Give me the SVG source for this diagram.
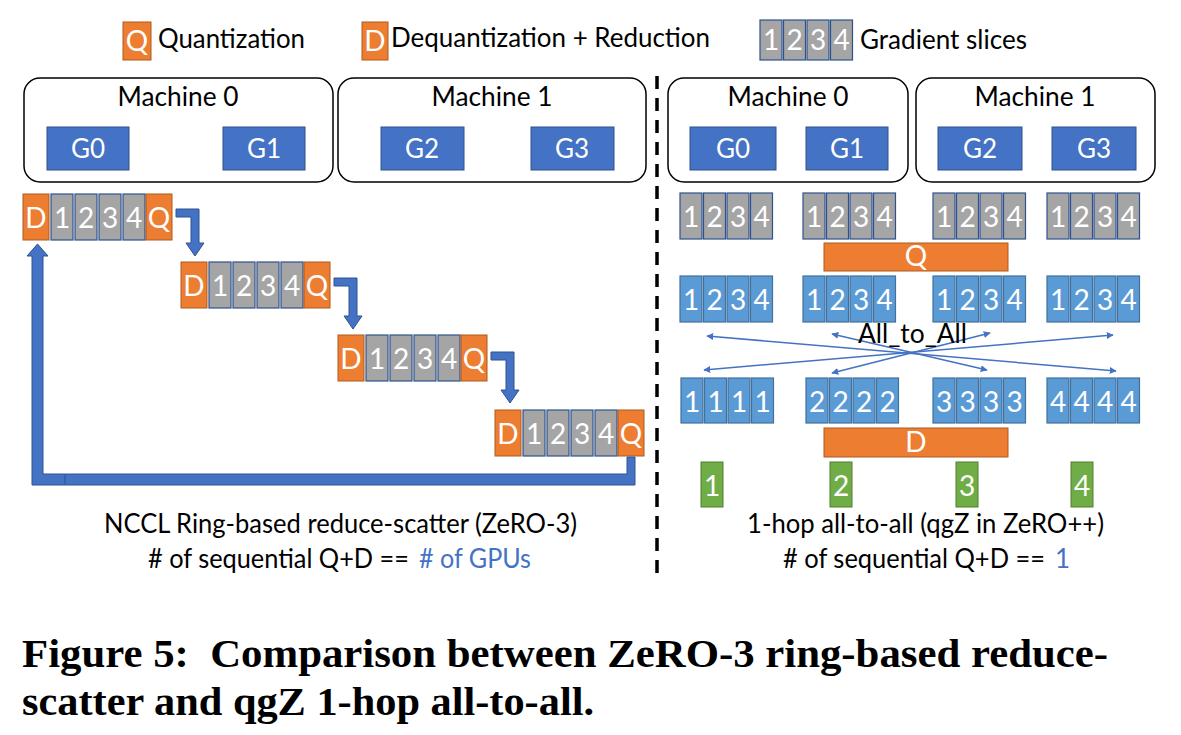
<svg xmlns="http://www.w3.org/2000/svg" width="1181" height="735" viewBox="0 0 1181 735">
<style>
text{font-family:Lato,"Open Sans","Liberation Sans",sans-serif;font-size:26px;fill:#000}
.w{fill:#fff;text-anchor:middle;font-size:28px}
.g{fill:#fff;text-anchor:middle;font-size:26px}
.c{text-anchor:middle}
.or{fill:#ED7D31;stroke:#AE5A21;stroke-width:1}
.gr{fill:#A5A5A5;stroke:#2F528F;stroke-width:1.2}
.bl{fill:#5B9BD5;stroke:#41719C;stroke-width:1.2}
.gn{fill:#70AD47;stroke:#507E32;stroke-width:1}
.gpu{fill:#4472C4;stroke:#2F528F;stroke-width:1}
.mach{fill:#fff;stroke:#000;stroke-width:1.5}
.arr{fill:#4472C4;stroke:#2F528F;stroke-width:1}
.x{stroke:#4472C4;stroke-width:1.5;fill:none;marker-start:url(#ah);marker-end:url(#ah)}
.blue{fill:#4472C4}
.cap{font-family:"Liberation Serif","Times New Roman",serif;font-weight:bold;font-size:40px}
</style>
<defs>
<marker id="ah" viewBox="0 0 10 10" refX="9" refY="5" markerWidth="7" markerHeight="7" markerUnits="userSpaceOnUse" orient="auto-start-reverse">
<path d="M0,0 L10,5 L0,10 z" fill="#4472C4"/>
</marker>
</defs>
<rect width="1181" height="735" fill="#fff"/>

<g id="legend">
<rect class="or" x="123" y="22" width="28" height="38"/><text class="w" x="137" y="51">Q</text>
<text x="158" y="48" textLength="147" lengthAdjust="spacingAndGlyphs">Quantization</text>
<rect class="or" x="362" y="22" width="26" height="38"/><text class="w" x="375" y="51">D</text>
<text x="391" y="47" textLength="319" lengthAdjust="spacingAndGlyphs">Dequantization + Reduction</text>
<rect class="gr" x="760" y="20" width="22" height="40"/><text class="w" x="771" y="50">1</text>
<rect class="gr" x="783.5" y="20" width="22" height="40"/><text class="w" x="794.5" y="50">2</text>
<rect class="gr" x="807" y="20" width="22" height="40"/><text class="w" x="818" y="50">3</text>
<rect class="gr" x="830.5" y="20" width="22" height="40"/><text class="w" x="841.5" y="50">4</text>
<text x="860" y="49" textLength="167" lengthAdjust="spacingAndGlyphs">Gradient slices</text>
</g>

<g id="left-machine0">
<rect class="mach" x="24" y="78" width="309" height="104" rx="16"/>
<text class="c" x="178" y="106" textLength="121" lengthAdjust="spacingAndGlyphs">Machine 0</text>
<rect class="gpu" x="47" y="127" width="82" height="43"/><text class="g" x="88" y="158">G0</text>
<rect class="gpu" x="223" y="127" width="82" height="43"/><text class="g" x="264" y="158">G1</text>
</g>
<g id="left-machine1">
<rect class="mach" x="338" y="78" width="308" height="104" rx="16"/>
<text class="c" x="492" y="106" textLength="121" lengthAdjust="spacingAndGlyphs">Machine 1</text>
<rect class="gpu" x="381" y="127" width="83" height="43"/><text class="g" x="422" y="158">G2</text>
<rect class="gpu" x="531" y="127" width="83" height="43"/><text class="g" x="572" y="158">G3</text>
</g>

<g id="ring-row1">
<rect class="or" x="23" y="194" width="26" height="46"/><text class="w" x="36" y="228">D</text>
<rect class="gr" x="51" y="194" width="22" height="46"/><text class="w" x="62" y="228">1</text>
<rect class="gr" x="75" y="194" width="22" height="46"/><text class="w" x="86" y="228">2</text>
<rect class="gr" x="99" y="194" width="22" height="46"/><text class="w" x="110" y="228">3</text>
<rect class="gr" x="123" y="194" width="22" height="46"/><text class="w" x="134" y="228">4</text>
<rect class="or" x="146" y="194" width="26" height="46"/><text class="w" x="159" y="228">Q</text>
</g>
<g id="ring-row2">
<rect class="or" x="181" y="262" width="26" height="46"/><text class="w" x="194" y="296">D</text>
<rect class="gr" x="209" y="262" width="22" height="46"/><text class="w" x="220" y="296">1</text>
<rect class="gr" x="233" y="262" width="22" height="46"/><text class="w" x="244" y="296">2</text>
<rect class="gr" x="257" y="262" width="22" height="46"/><text class="w" x="268" y="296">3</text>
<rect class="gr" x="281" y="262" width="22" height="46"/><text class="w" x="292" y="296">4</text>
<rect class="or" x="304" y="262" width="26" height="46"/><text class="w" x="317" y="296">Q</text>
</g>
<g id="ring-row3">
<rect class="or" x="338" y="335" width="26" height="46"/><text class="w" x="351" y="369">D</text>
<rect class="gr" x="366" y="335" width="22" height="46"/><text class="w" x="377" y="369">1</text>
<rect class="gr" x="390" y="335" width="22" height="46"/><text class="w" x="401" y="369">2</text>
<rect class="gr" x="414" y="335" width="22" height="46"/><text class="w" x="425" y="369">3</text>
<rect class="gr" x="438" y="335" width="22" height="46"/><text class="w" x="449" y="369">4</text>
<rect class="or" x="461" y="335" width="26" height="46"/><text class="w" x="474" y="369">Q</text>
</g>
<g id="ring-row4">
<rect class="or" x="495" y="410" width="26" height="46"/><text class="w" x="508" y="444">D</text>
<rect class="gr" x="523" y="410" width="22" height="46"/><text class="w" x="534" y="444">1</text>
<rect class="gr" x="547" y="410" width="22" height="46"/><text class="w" x="558" y="444">2</text>
<rect class="gr" x="571" y="410" width="22" height="46"/><text class="w" x="582" y="444">3</text>
<rect class="gr" x="595" y="410" width="22" height="46"/><text class="w" x="606" y="444">4</text>
<rect class="or" x="618" y="410" width="26" height="46"/><text class="w" x="631" y="444">Q</text>
</g>

<g id="connectors">
<polygon class="arr" points="176,209 199,209 199,243 204,243 195,256 186,243 191,243 191,217 176,217"/>
<polygon class="arr" points="334,278 357,278 357,316 362,316 353,329 344,316 349,316 349,286 334,286"/>
<polygon class="arr" points="491,352 514,352 514,390 519,390 510,403 501,390 506,390 506,360 491,360"/>
<polygon class="arr" points="627,457 635,457 635,485 32,485 32,256 27,256 37.5,244 48,256 43,256 43,474 627,474"/>
<line x1="65" y1="474" x2="65" y2="485" stroke="#2F528F" stroke-width="1"/>
<line class="x" x1="707" y1="336" x2="1116" y2="371"/>
<line class="x" x1="832" y1="334" x2="987" y2="370"/>
<line class="x" x1="990" y1="333" x2="832" y2="373"/>
<line class="x" x1="1113" y1="335" x2="704" y2="370"/>
</g>

<line id="divider" x1="657" y1="76" x2="657" y2="578" stroke="#000" stroke-width="3.5" stroke-dasharray="13 9"/>

<g id="right-machine0">
<rect class="mach" x="668" y="78" width="240" height="104" rx="16"/>
<text class="c" x="788" y="106" textLength="121" lengthAdjust="spacingAndGlyphs">Machine 0</text>
<rect class="gpu" x="690" y="127" width="86" height="43"/><text class="g" x="733" y="158">G0</text>
<rect class="gpu" x="806" y="127" width="82" height="43"/><text class="g" x="847" y="158">G1</text>
</g>
<g id="right-machine1">
<rect class="mach" x="916" y="78" width="239" height="104" rx="16"/>
<text class="c" x="1035" y="106" textLength="121" lengthAdjust="spacingAndGlyphs">Machine 1</text>
<rect class="gpu" x="938" y="127" width="84" height="43"/><text class="g" x="980" y="158">G2</text>
<rect class="gpu" x="1052" y="127" width="84" height="43"/><text class="g" x="1094" y="158">G3</text>
</g>

<g id="slices-before">
<rect class="gr" x="680" y="193" width="22" height="46"/><text class="w" x="691" y="227">1</text>
<rect class="gr" x="703.5" y="193" width="22" height="46"/><text class="w" x="714.5" y="227">2</text>
<rect class="gr" x="727" y="193" width="22" height="46"/><text class="w" x="738" y="227">3</text>
<rect class="gr" x="750.5" y="193" width="22" height="46"/><text class="w" x="761.5" y="227">4</text>
<rect class="gr" x="803" y="193" width="22" height="46"/><text class="w" x="814" y="227">1</text>
<rect class="gr" x="826.5" y="193" width="22" height="46"/><text class="w" x="837.5" y="227">2</text>
<rect class="gr" x="850" y="193" width="22" height="46"/><text class="w" x="861" y="227">3</text>
<rect class="gr" x="873.5" y="193" width="22" height="46"/><text class="w" x="884.5" y="227">4</text>
<rect class="gr" x="933" y="193" width="22" height="46"/><text class="w" x="944" y="227">1</text>
<rect class="gr" x="956.5" y="193" width="22" height="46"/><text class="w" x="967.5" y="227">2</text>
<rect class="gr" x="980" y="193" width="22" height="46"/><text class="w" x="991" y="227">3</text>
<rect class="gr" x="1003.5" y="193" width="22" height="46"/><text class="w" x="1014.5" y="227">4</text>
<rect class="gr" x="1047" y="193" width="22" height="46"/><text class="w" x="1058" y="227">1</text>
<rect class="gr" x="1070.5" y="193" width="22" height="46"/><text class="w" x="1081.5" y="227">2</text>
<rect class="gr" x="1094" y="193" width="22" height="46"/><text class="w" x="1105" y="227">3</text>
<rect class="gr" x="1117.5" y="193" width="22" height="46"/><text class="w" x="1128.5" y="227">4</text>
</g>

<g id="q-bar">
<rect class="or" x="824" y="243" width="184" height="28" stroke="#2F528F"/>
<text class="w" x="916" y="266">Q</text>
</g>

<g id="slices-quantized">
<rect class="bl" x="680" y="276" width="22" height="46"/><text class="w" x="691" y="310">1</text>
<rect class="bl" x="703.5" y="276" width="22" height="46"/><text class="w" x="714.5" y="310">2</text>
<rect class="bl" x="727" y="276" width="22" height="46"/><text class="w" x="738" y="310">3</text>
<rect class="bl" x="750.5" y="276" width="22" height="46"/><text class="w" x="761.5" y="310">4</text>
<rect class="bl" x="803" y="276" width="22" height="46"/><text class="w" x="814" y="310">1</text>
<rect class="bl" x="826.5" y="276" width="22" height="46"/><text class="w" x="837.5" y="310">2</text>
<rect class="bl" x="850" y="276" width="22" height="46"/><text class="w" x="861" y="310">3</text>
<rect class="bl" x="873.5" y="276" width="22" height="46"/><text class="w" x="884.5" y="310">4</text>
<rect class="bl" x="933" y="276" width="22" height="46"/><text class="w" x="944" y="310">1</text>
<rect class="bl" x="956.5" y="276" width="22" height="46"/><text class="w" x="967.5" y="310">2</text>
<rect class="bl" x="980" y="276" width="22" height="46"/><text class="w" x="991" y="310">3</text>
<rect class="bl" x="1003.5" y="276" width="22" height="46"/><text class="w" x="1014.5" y="310">4</text>
<rect class="bl" x="1047" y="276" width="22" height="46"/><text class="w" x="1058" y="310">1</text>
<rect class="bl" x="1070.5" y="276" width="22" height="46"/><text class="w" x="1081.5" y="310">2</text>
<rect class="bl" x="1094" y="276" width="22" height="46"/><text class="w" x="1105" y="310">3</text>
<rect class="bl" x="1117.5" y="276" width="22" height="46"/><text class="w" x="1128.5" y="310">4</text>
</g>

<text id="all-to-all-label" x="858" y="343" textLength="109" lengthAdjust="spacingAndGlyphs">All_to_All</text>

<g id="slices-exchanged">
<rect class="bl" x="681" y="378" width="22" height="45"/><text class="w" x="692" y="412">1</text>
<rect class="bl" x="704.5" y="378" width="22" height="45"/><text class="w" x="715.5" y="412">1</text>
<rect class="bl" x="728" y="378" width="22" height="45"/><text class="w" x="739" y="412">1</text>
<rect class="bl" x="751.5" y="378" width="22" height="45"/><text class="w" x="762.5" y="412">1</text>
<rect class="bl" x="806" y="378" width="22" height="45"/><text class="w" x="817" y="412">2</text>
<rect class="bl" x="829.5" y="378" width="22" height="45"/><text class="w" x="840.5" y="412">2</text>
<rect class="bl" x="853" y="378" width="22" height="45"/><text class="w" x="864" y="412">2</text>
<rect class="bl" x="876.5" y="378" width="22" height="45"/><text class="w" x="887.5" y="412">2</text>
<rect class="bl" x="933" y="378" width="22" height="45"/><text class="w" x="944" y="412">3</text>
<rect class="bl" x="956.5" y="378" width="22" height="45"/><text class="w" x="967.5" y="412">3</text>
<rect class="bl" x="980" y="378" width="22" height="45"/><text class="w" x="991" y="412">3</text>
<rect class="bl" x="1003.5" y="378" width="22" height="45"/><text class="w" x="1014.5" y="412">3</text>
<rect class="bl" x="1047" y="378" width="22" height="45"/><text class="w" x="1058" y="412">4</text>
<rect class="bl" x="1070.5" y="378" width="22" height="45"/><text class="w" x="1081.5" y="412">4</text>
<rect class="bl" x="1094" y="378" width="22" height="45"/><text class="w" x="1105" y="412">4</text>
<rect class="bl" x="1117.5" y="378" width="22" height="45"/><text class="w" x="1128.5" y="412">4</text>
</g>

<g id="d-bar">
<rect class="or" x="824" y="428" width="184" height="29" stroke="#2F528F"/>
<text class="w" x="916" y="452">D</text>
</g>

<g id="reduced">
<rect class="gn" x="701" y="462" width="22" height="45"/><text class="w" x="712" y="496">1</text>
<rect class="gn" x="830" y="462" width="22" height="45"/><text class="w" x="841" y="496">2</text>
<rect class="gn" x="956" y="462" width="22" height="45"/><text class="w" x="967" y="496">3</text>
<rect class="gn" x="1071" y="462" width="22" height="45"/><text class="w" x="1082" y="496">4</text>
</g>

<g id="left-caption">
<text x="104" y="533" textLength="473" lengthAdjust="spacingAndGlyphs">NCCL Ring-based reduce-scatter (ZeRO-3)</text>
<text x="148" y="568" textLength="261" lengthAdjust="spacingAndGlyphs"># of sequential Q+D ==</text>
<text class="blue" x="419" y="568" textLength="112" lengthAdjust="spacingAndGlyphs"># of GPUs</text>
</g>
<g id="right-caption">
<text x="747" y="533" textLength="357" lengthAdjust="spacingAndGlyphs">1-hop all-to-all (qgZ in ZeRO++)</text>
<text x="783" y="568" textLength="262" lengthAdjust="spacingAndGlyphs"># of sequential Q+D ==</text>
<text class="blue" x="1055" y="568">1</text>
</g>

<g id="figure-caption">
<text class="cap" x="22" y="667" textLength="1086" lengthAdjust="spacingAndGlyphs">Figure 5:&#160; Comparison between ZeRO-3 ring-based reduce-</text>
<text class="cap" x="22" y="715" textLength="572" lengthAdjust="spacingAndGlyphs">scatter and qgZ 1-hop all-to-all.</text>
</g>
</svg>
